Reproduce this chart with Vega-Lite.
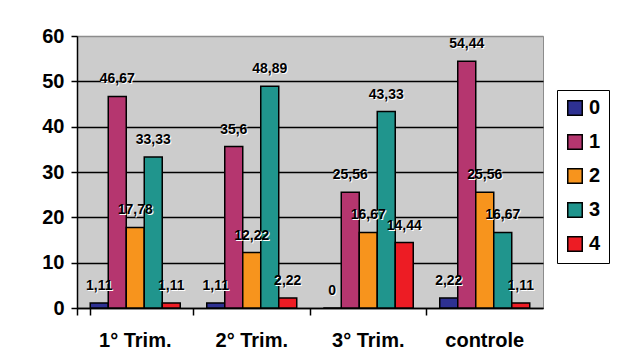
{
  "$schema": "https://vega.github.io/schema/vega-lite/v6.json",
  "autosize": "none",
  "width": 466,
  "height": 272,
  "padding": {"left": 77, "top": 36, "right": 75, "bottom": 52},
  "background": "white",
  "config": {
    "locale": {"number": {"decimal": ",", "thousands": ".", "grouping": [3], "currency": ["", " €"]}},
    "view": {"fill": "#cccccc", "stroke": "#8c8c8c", "strokeWidth": 1},
    "font": "Liberation Sans"
  },
  "data": {
    "values": [
      {"grupo": "1° Trim.", "serie": "0", "valor": 1.11},
      {"grupo": "1° Trim.", "serie": "1", "valor": 46.67},
      {"grupo": "1° Trim.", "serie": "2", "valor": 17.78},
      {"grupo": "1° Trim.", "serie": "3", "valor": 33.33},
      {"grupo": "1° Trim.", "serie": "4", "valor": 1.11},
      {"grupo": "2° Trim.", "serie": "0", "valor": 1.11},
      {"grupo": "2° Trim.", "serie": "1", "valor": 35.6},
      {"grupo": "2° Trim.", "serie": "2", "valor": 12.22},
      {"grupo": "2° Trim.", "serie": "3", "valor": 48.89},
      {"grupo": "2° Trim.", "serie": "4", "valor": 2.22},
      {"grupo": "3° Trim.", "serie": "0", "valor": 0},
      {"grupo": "3° Trim.", "serie": "1", "valor": 25.56},
      {"grupo": "3° Trim.", "serie": "2", "valor": 16.67},
      {"grupo": "3° Trim.", "serie": "3", "valor": 43.33},
      {"grupo": "3° Trim.", "serie": "4", "valor": 14.44},
      {"grupo": "controle", "serie": "0", "valor": 2.22},
      {"grupo": "controle", "serie": "1", "valor": 54.44},
      {"grupo": "controle", "serie": "2", "valor": 25.56},
      {"grupo": "controle", "serie": "3", "valor": 16.67},
      {"grupo": "controle", "serie": "4", "valor": 1.11}
    ]
  },
  "encoding": {
    "x": {
      "field": "grupo",
      "type": "nominal",
      "sort": ["1° Trim.", "2° Trim.", "3° Trim.", "controle"],
      "scale": {"paddingInner": 0.2275, "paddingOuter": 0.11375},
      "axis": {
        "title": null,
        "labelAngle": 0,
        "labelFontSize": 20,
        "labelFontWeight": "bold",
        "labelColor": "black",
        "labelPadding": 15,
        "domain": true,
        "domainColor": "black",
        "domainWidth": 1.5,
        "ticks": true,
        "tickOpacity": 1,
        "tickColor": "black",
        "tickWidth": 1.5,
        "tickSize": 7,
        "bandPosition": -0.147,
        "tickExtra": true
      }
    },
    "xOffset": {"field": "serie", "type": "nominal", "sort": ["0", "1", "2", "3", "4"]}
  },
  "layer": [
    {
      "mark": {"type": "bar", "stroke": "black", "strokeWidth": 1.5},
      "encoding": {
        "y": {
          "field": "valor",
          "type": "quantitative",
          "scale": {"domain": [0, 60], "nice": false},
          "axis": {
            "title": null,
            "values": [0, 10, 20, 30, 40, 50, 60],
            "labelFontSize": 20,
            "labelFontWeight": "bold",
            "labelColor": "black",
            "labelPadding": 7,
            "domainColor": "black",
            "domainWidth": 1.5,
            "tickColor": "black",
            "tickWidth": 1.5,
            "tickSize": 6,
            "grid": true,
            "gridColor": {"condition": {"test": "datum.value == 60", "value": "#8c8c8c"}, "value": "black"},
            "gridWidth": 1.5,
            "gridOpacity": 1
          }
        },
        "color": {
          "field": "serie",
          "type": "nominal",
          "sort": ["0", "1", "2", "3", "4"],
          "scale": {
            "domain": ["0", "1", "2", "3", "4"],
            "range": ["#2e3192", "#b5366f", "#f7941d", "#20958d", "#ed1c24"]
          },
          "legend": {
            "title": null,
            "orient": "none",
            "legendX": 480,
            "legendY": 54,
            "symbolType": "square",
            "symbolSize": 210,
            "symbolStrokeColor": "black",
            "symbolStrokeWidth": 1.5,
            "symbolOpacity": 1,
            "labelFontSize": 20,
            "labelFontWeight": "bold",
            "labelColor": "black",
            "labelOffset": 4,
            "rowPadding": 12,
            "padding": 8,
            "strokeColor": "black",
            "fillColor": "white"
          }
        }
      }
    },
    {
      "mark": {"type": "text", "color": "white", "fontSize": 14, "fontWeight": "bold", "baseline": "alphabetic", "dx": 1, "dy": -12},
      "encoding": {
        "y": {"field": "valor", "type": "quantitative"},
        "text": {"field": "valor", "type": "quantitative", "format": "~r"}
      }
    },
    {
      "mark": {"type": "text", "color": "black", "fontSize": 14, "fontWeight": "bold", "baseline": "alphabetic", "dy": -13},
      "encoding": {
        "y": {"field": "valor", "type": "quantitative"},
        "text": {"field": "valor", "type": "quantitative", "format": "~r"}
      }
    }
  ]
}
